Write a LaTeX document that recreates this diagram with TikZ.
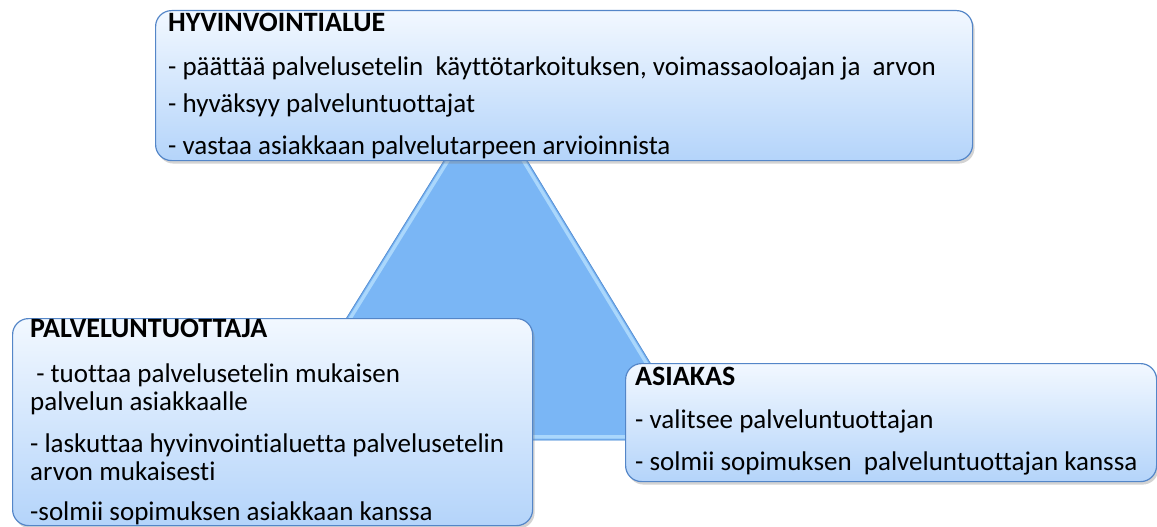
\documentclass[tikz,border=0pt]{standalone}
\usepackage{fontspec}
\setmainfont{Carlito}[Ligatures=NoCommon]
\usetikzlibrary{shadows}

\definecolor{boxline}{RGB}{84,134,200}
\definecolor{boxtop}{RGB}{242,248,255}
\definecolor{boxbottom}{RGB}{180,212,250}
\definecolor{trifill}{RGB}{122,182,245}
\definecolor{trilight}{RGB}{170,215,252}
\definecolor{triline}{RGB}{90,145,210}

\tikzset{
  rolebox/.style={draw=boxline, line width=1.2pt, rounded corners=16pt,
    top color=boxtop, bottom color=boxbottom,
    drop shadow={shadow xshift=2pt, shadow yshift=-3pt, opacity=0.35},
    inner sep=0pt, anchor=north west},
  txt/.style={anchor=base west, inner sep=0pt, font=\fontsize{27}{31}\selectfont},
  head/.style={txt, font=\fontsize{28}{32}\selectfont\bfseries}
}

\begin{document}
\begin{tikzpicture}[x=1pt, y=-1pt]
  \useasboundingbox (0,0) rectangle (1157,527);
  % triangle behind the boxes
  \coordinate (apex) at (486,93);
  \coordinate (bl) at (271,440);
  \coordinate (br) at (697,440);
  \fill[trifill] (apex) -- (br) -- (bl) -- cycle;
  \begin{scope}
    \clip (apex) -- (br) -- (bl) -- cycle;
    \draw[trilight, line width=10pt] (apex) -- (br) -- (bl) -- cycle;
    \draw[trifill, line width=3pt] (apex) -- (br) -- (bl) -- cycle;
  \end{scope}
  \draw[triline, line width=0.8pt] (apex) -- (br) -- (bl) -- cycle;

  % HYVINVOINTIALUE
  \node[rolebox, minimum width=817pt, minimum height=150pt] (alue) at (155,10) {};
  \node[head] (alueh) at (168,32) {HYVINVOINTIALUE};
  \node[txt] (alue1) at (168,75) {- päättää palvelusetelin\ \ käyttötarkoituksen, voimassaoloajan ja\ \ arvon};
  \node[txt] (alue2) at (168,113) {- hyväksyy palveluntuottajat};
  \node[txt] (alue3) at (168,154) {- vastaa asiakkaan palvelutarpeen arvioinnista};

  % PALVELUNTUOTTAJA
  \node[rolebox, minimum width=520pt, minimum height=207pt] (tuottaja) at (12,318) {};
  \node[head] (tuottajah) at (30,337) {PALVELUNTUOTTAJA};
  \node[txt] (tuottaja1) at (30,382) {\ - tuottaa palvelusetelin mukaisen};
  \node[txt] (tuottaja2) at (30,410) {palvelun asiakkaalle};
  \node[txt] (tuottaja3) at (30,452) {- laskuttaa hyvinvointialuetta palvelusetelin};
  \node[txt] (tuottaja4) at (30,480) {arvon mukaisesti};
  \node[txt] (tuottaja5) at (30,520) {-solmii sopimuksen asiakkaan kanssa};

  % ASIAKAS
  \node[rolebox, minimum width=531pt, minimum height=118pt] (asiakas) at (625,363) {};
  \node[head] (asiakash) at (635,385) {ASIAKAS};
  \node[txt] (asiakas1) at (635,428) {- valitsee palveluntuottajan};
  \node[txt] (asiakas2) at (635,470) {- solmii sopimuksen\ \ palveluntuottajan kanssa};
\end{tikzpicture}
\end{document}
